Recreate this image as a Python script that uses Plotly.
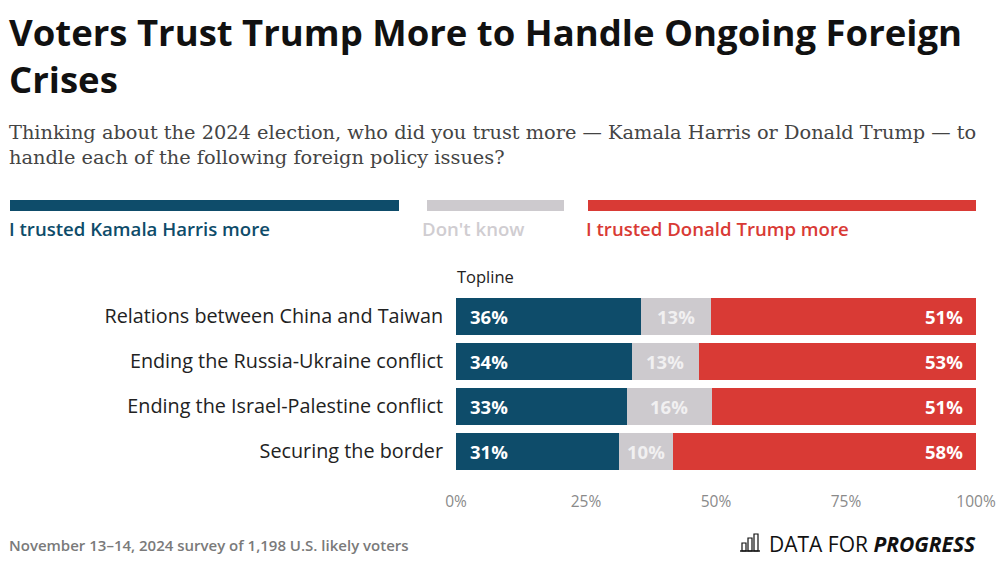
import plotly.graph_objects as go

categories = ["Relations between China and Taiwan", "Ending the Russia-Ukraine conflict",
              "Ending the Israel-Palestine conflict", "Securing the border"]
harris = [35.6, 33.8, 32.9, 31.4]
dont_know = [13.4, 12.9, 16.3, 10.3]
trump = [51.0, 53.3, 50.8, 58.3]
tick_vals = [0, 25, 50, 75, 100]
tick_text = ["0%", "25%", "50%", "75%", "100%"]

C_H = "#0E4C6A"
C_D = "#CDCACE"
C_T = "#D93A35"
SANS = "Open Sans"

W, H = 1000, 564
L, R = 456, 976
T, B = 294, 474

def px(x):
    return (x - L) / (R - L)

def py(y):
    return (B - y) / (B - T)

fig = go.Figure()
for name, vals, col in [("I trusted Kamala Harris more", harris, C_H),
                        ("Don't know", dont_know, C_D),
                        ("I trusted Donald Trump more", trump, C_T)]:
    fig.add_trace(go.Bar(y=categories, x=vals, orientation="h", name=name,
                         marker=dict(color=col, line=dict(width=0)), showlegend=False,
                         hoverinfo="x+y"))

ann = []
for i, c in enumerate(categories):
    ann.append(dict(x=0, y=c, xref="x", yref="y", text=f"<b>{round(harris[i])}%</b>", showarrow=False,
                    xanchor="left", xshift=12, font=dict(family=SANS, size=18.5, color="white")))
    ann.append(dict(x=harris[i] + dont_know[i] / 2, y=c, xref="x", yref="y",
                    text=f"<b>{round(dont_know[i])}%</b>", showarrow=False, xanchor="center",
                    font=dict(family=SANS, size=18.5, color="#F1F0F1")))
    ann.append(dict(x=harris[i] + dont_know[i] + trump[i], y=c, xref="x", yref="y",
                    text=f"<b>{round(trump[i])}%</b>", showarrow=False, xanchor="right", xshift=-11,
                    font=dict(family=SANS, size=18.5, color="white")))

def text(x, y, s, size, color, family=SANS, xanchor="left", yanchor="middle", weight="normal"):
    ann.append(dict(x=px(x), y=py(y), xref="paper", yref="paper", text=s, showarrow=False,
                    xanchor=xanchor, yanchor=yanchor, align="left", borderpad=0,
                    font=dict(family=family, size=size, color=color, weight=weight)))

text(8, 55.5, "Voters Trust Trump More to Handle Ongoing Foreign<br>Crises", 36.5, "#111111", weight="bold")
text(8, 144.5, "Thinking about the 2024 election, who did you trust more — Kamala Harris or Donald Trump — to<br>handle each of the following foreign policy issues?", 19.35, "#444444", family="DejaVu Serif")
text(8, 228, "I trusted Kamala Harris more", 18.6, C_H, weight=600)
text(421, 228, "Don't know", 18.6, "#D0CDD1", weight=600)
text(585, 228, "I trusted Donald Trump more", 18.6, C_T, weight=600)
text(456, 276, "Topline", 16.5, "#222222")
text(8, 545, "November 13–14, 2024 survey of 1,198 U.S. likely voters", 15, "#7A7A7A", weight=600)
text(977, 544, "DATA FOR <b><i>PROGRESS</i></b>", 21, "#111111", xanchor="right")

shapes = []
for x0, x1, col in [(10, 399, C_H), (427, 564, C_D), (588, 976, C_T)]:
    shapes.append(dict(type="rect", xref="paper", yref="paper", x0=px(x0), x1=px(x1),
                       y0=py(211), y1=py(200), fillcolor=col, line=dict(width=0)))
# logo icon
for x0, x1, y0 in [(742, 746, 543), (748, 752, 538), (754, 758, 534)]:
    shapes.append(dict(type="rect", xref="paper", yref="paper", x0=px(x0), x1=px(x1),
                       y0=py(551), y1=py(y0), fillcolor="white",
                       line=dict(width=1.2, color="#111111")))
shapes.append(dict(type="line", xref="paper", yref="paper", x0=px(740), x1=px(760),
                   y0=py(551), y1=py(551), line=dict(width=1.4, color="#111111")))

fig.update_layout(
    width=W, height=H, barmode="stack", bargap=0.17,
    margin=dict(l=L, r=W - R, t=T, b=H - B, pad=0, autoexpand=False),
    paper_bgcolor="white", plot_bgcolor="white",
    xaxis=dict(range=[0, 100], tickvals=tick_vals, ticktext=tick_text, showgrid=False,
               zeroline=False, showline=False, ticks="", ticklabelstandoff=16, automargin=False,
               tickfont=dict(family=SANS, size=15.5, color="#8A8A8A"), fixedrange=True),
    yaxis=dict(autorange="reversed", showgrid=False, zeroline=False, showline=False,
               ticks="outside", ticklen=8, tickcolor="rgba(0,0,0,0)", automargin=False,
               tickfont=dict(family=SANS, size=19.8, color="#222222"), fixedrange=True),
    annotations=ann, shapes=shapes,
)

fig.write_html("out.html", config={"displayModeBar": False},
               post_script="document.body.style.margin='0';")
